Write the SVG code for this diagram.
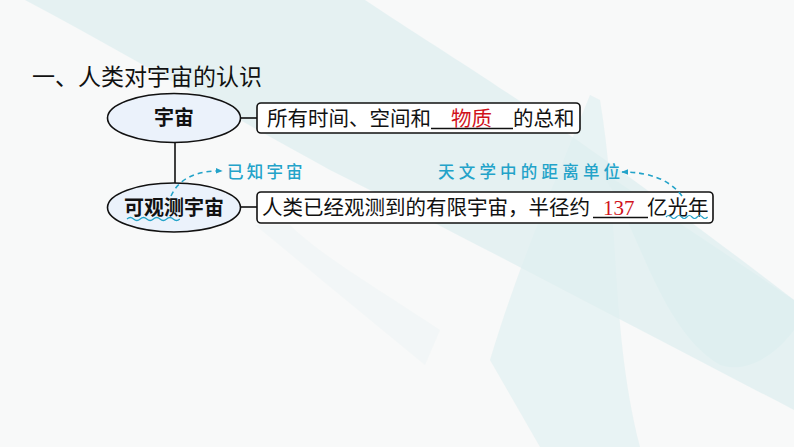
<svg xmlns="http://www.w3.org/2000/svg" width="794" height="447" viewBox="0 0 794 447">
<defs>
<style>
.bg{fill:#c9e7e9}
.node{fill:#ebf2fb;stroke:#111;stroke-width:1.6}
.box{fill:#ffffff;stroke:#111;stroke-width:1.6}
.con{stroke:#111;stroke-width:1.6;fill:none}
.t{font-family:"Noto Sans CJK SC","Noto Sans",sans-serif;fill:#111}
.nt{font-family:"Noto Sans CJK SC","Noto Sans",sans-serif;font-weight:bold;font-size:20px;fill:#111;text-anchor:middle}
.bt{font-family:"Noto Sans CJK SC","Noto Sans",sans-serif;font-size:20.5px;fill:#111}
.ans{fill:#d0121b}
.note{font-family:"Noto Sans CJK SC",sans-serif;font-size:16.5px;font-weight:500;fill:#23a3c9}
.dash{stroke:#23a3c9;stroke-width:1.6;fill:none;stroke-dasharray:5 4}
.wave{stroke:#23a3c9;stroke-width:1.2;fill:none}
.ul{stroke:#111;stroke-width:1.4}
</style>
<marker id="ah" viewBox="0 0 10 10" refX="9" refY="5" markerWidth="7" markerHeight="7" orient="auto-start-reverse" markerUnits="userSpaceOnUse">
<path d="M0,1 L10,5 L0,9 z" fill="#23a3c9"/>
</marker>
</defs>
<rect width="794" height="447" fill="#f8f9f9"/>
<g id="background" opacity="0.55">
<path class="bg" d="M25,0 L365,0 C470,70 560,120 794,300 L794,410 C640,330 470,240 330,170 C220,110 120,50 25,0 z" opacity="0.7"/>
<path class="bg" d="M590,95 C560,170 520,260 490,360 L540,447 L640,447 C610,330 620,220 600,100 z" opacity="0.6"/>
<path class="bg" d="M600,170 C640,230 660,330 720,365 C750,375 780,350 794,330 L794,300 C720,250 660,210 600,170 z" opacity="0.8"/>
<path class="bg" d="M255,225 C310,270 370,320 425,365 L440,330 C380,290 320,255 290,225 z" opacity="0.2"/>
</g>
<text class="t" x="32" y="85" font-size="23">一、人类对宇宙的认识</text>
<g id="connectors">
<line class="con" x1="240" y1="118" x2="257" y2="118"/>
<line class="con" x1="240" y1="207" x2="257" y2="207"/>
<line class="con" x1="175" y1="142" x2="175" y2="183"/>
</g>
<g id="node-universe">
<ellipse class="node" cx="174" cy="118" rx="66.5" ry="24.5"/>
<text class="nt" x="174" y="125">宇宙</text>
</g>
<g id="node-observable">
<ellipse class="node" cx="174" cy="207.5" rx="66.5" ry="24.5"/>
<text class="nt" x="174" y="214.5">可观测宇宙</text>
<path class="wave" d="M127,219 q3.3,-3 6.6,0 t6.6,0 t6.6,0 t6.6,0 t6.6,0 t6.6,0 t6.6,0 t6.6,0"/>
</g>
<g id="box-universe">
<rect class="box" x="257" y="103" width="323" height="30" rx="4"/>
<text class="bt" x="267" y="125.5">所有时间、空间和</text>
<line class="ul" x1="431" y1="128.5" x2="513" y2="128.5"/>
<text class="bt ans" x="451" y="125.5">物质</text>
<text class="bt" x="513" y="125.5">的总和</text>
</g>
<g id="box-observable">
<rect class="box" x="257" y="192" width="456" height="31" rx="4"/>
<text class="bt" x="262" y="214.5">人类已经观测到的有限宇宙，半径约</text>
<line class="ul" x1="593" y1="217.5" x2="648" y2="217.5"/>
<text x="603" y="214.5" font-family="Liberation Serif,serif" font-size="21" class="ans">137</text>
<text class="bt" x="647" y="214.5">亿光年</text>
<path class="wave" d="M666,217 q2.6,-3 5.2,0 t5.2,0 t5.2,0 t5.2,0 t5.2,0 t5.2,0 t5.2,0 t5.2,0"/>
</g>
<g id="note-known">
<path class="dash" d="M171,196 C178,180 195,170 222,171" marker-end="url(#ah)"/>
<text class="note" x="227" y="178" letter-spacing="3.2">已知宇宙</text>
</g>
<g id="note-unit">
<path class="dash" d="M682,196 C670,180 650,172 622,172" marker-end="url(#ah)"/>
<text class="note" x="438" y="178" letter-spacing="4.2">天文学中的距离单位</text>
</g>
</svg>
